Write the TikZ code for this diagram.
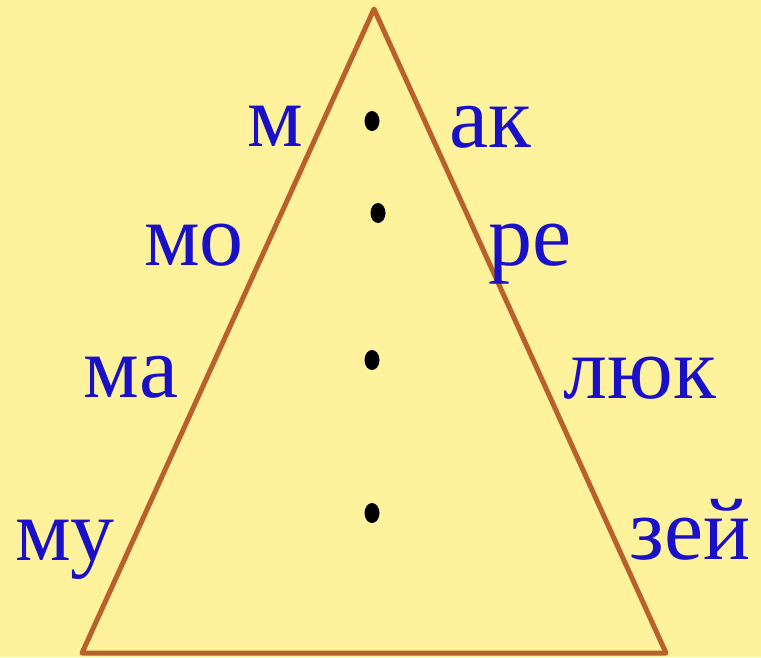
\documentclass[tikz,border=0pt]{standalone}
\usepackage{fontspec}
\setmainfont{Liberation Serif}
\definecolor{bgyellow}{HTML}{FEF29C}
\definecolor{edgebrown}{HTML}{B8612A}
\definecolor{syllblue}{HTML}{1A10C8}
\tikzset{
  syll/.style={anchor=base, inner sep=0pt, text=syllblue, font=\fontsize{88}{88}\selectfont},
  dot/.style={fill=black}
}
\begin{document}
\begin{tikzpicture}[x=1pt,y=-1pt]
\fill[bgyellow] (0,0) rectangle (761,657);
\useasboundingbox (0,0) rectangle (761,657);

\coordinate (A) at (374,9);
\coordinate (B) at (82,653);
\coordinate (C) at (666,653);

\draw[edgebrown, line width=5pt, line join=round] (A) -- (B) -- (C) -- cycle;

\fill[dot] (372,121) ellipse [x radius=7.5, y radius=10];
\fill[dot] (378,213) ellipse [x radius=7.5, y radius=10];
\fill[dot] (372,360) ellipse [x radius=7.5, y radius=10];
\fill[dot] (372,513) ellipse [x radius=7.5, y radius=10];

\node[syll] (m)   at (275,146) {м};
\node[syll] (ak)  at (490,147) {ак};
\node[syll] (mo)  at (194,265) {мо};
\node[syll] (re)  at (530,265) {ре};
\node[syll] (ma)  at (131,397) {ма};
\node[syll] (lyuk) at (640,398) {люк};
\node[syll] (mu)  at (65,560) {му};
\node[syll] (zey) at (690,559) {зей};
\end{tikzpicture}
\end{document}
